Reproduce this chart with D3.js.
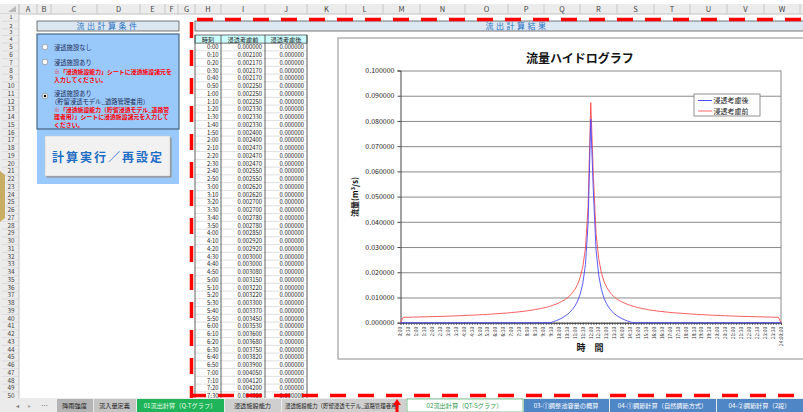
<!DOCTYPE html>
<html>
<head>
<meta charset="utf-8">
<script src="https://cdn.jsdelivr.net/npm/d3@7"></script>
<style>
body { margin: 0; background: #fff; }
svg { display: block; }
text { font-family: "Noto Sans CJK JP", "Noto Sans", sans-serif; }
</style>
</head>
<body>
<script>
// categories: 10 minute steps, 0:00 .. 24:00
var times = [
  "0:00","0:10","0:20","0:30","0:40","0:50",
  "1:00","1:10","1:20","1:30","1:40","1:50",
  "2:00","2:10","2:20","2:30","2:40","2:50",
  "3:00","3:10","3:20","3:30","3:40","3:50",
  "4:00","4:10","4:20","4:30","4:40","4:50",
  "5:00","5:10","5:20","5:30","5:40","5:50",
  "6:00","6:10","6:20","6:30","6:40","6:50",
  "7:00","7:10","7:20","7:30","7:40","7:50",
  "8:00","8:10","8:20","8:30","8:40","8:50",
  "9:00","9:10","9:20","9:30","9:40","9:50",
  "10:00","10:10","10:20","10:30","10:40","10:50",
  "11:00","11:10","11:20","11:30","11:40","11:50",
  "12:00","12:10","12:20","12:30","12:40","12:50",
  "13:00","13:10","13:20","13:30","13:40","13:50",
  "14:00","14:10","14:20","14:30","14:40","14:50",
  "15:00","15:10","15:20","15:30","15:40","15:50",
  "16:00","16:10","16:20","16:30","16:40","16:50",
  "17:00","17:10","17:20","17:30","17:40","17:50",
  "18:00","18:10","18:20","18:30","18:40","18:50",
  "19:00","19:10","19:20","19:30","19:40","19:50",
  "20:00","20:10","20:20","20:30","20:40","20:50",
  "21:00","21:10","21:20","21:30","21:40","21:50",
  "22:00","22:10","22:20","22:30","22:40","22:50",
  "23:00","23:10","23:20","23:30","23:40","23:50",
  "24:00:00"
];

// 浸透考慮前 (m3/s)
var before = [
  0.000000,0.002100,0.002170,0.002170,0.002170,0.002250,
  0.002250,0.002250,0.002330,0.002330,0.002330,0.002400,
  0.002400,0.002470,0.002470,0.002470,0.002550,0.002550,
  0.002620,0.002620,0.002700,0.002700,0.002780,0.002780,
  0.002850,0.002920,0.002920,0.003000,0.003000,0.003080,
  0.003150,0.003220,0.003220,0.003300,0.003370,0.003450,
  0.003530,0.003600,0.003680,0.003750,0.003820,0.003900,
  0.004050,0.004120,0.004200,0.004350,0.004430,0.004580,
  0.004730,0.004880,0.005030,0.005250,0.005400,0.005630,
  0.005850,0.006080,0.006380,0.006680,0.007050,0.007430,
  0.007880,0.008400,0.009000,0.009750,0.010650,0.011780,
  0.013200,0.015150,0.017930,0.022200,0.029630,0.046130,
  0.087300,0.058000,0.035500,0.025500,0.019900,0.016400,
  0.014100,0.012400,0.011100,0.010100,0.009300,0.008650,
  0.008100,0.007650,0.007230,0.006880,0.006530,0.006230,
  0.005950,0.005700,0.005480,0.005330,0.005100,0.004950,
  0.004800,0.004650,0.004500,0.004430,0.004280,0.004200,
  0.004050,0.003980,0.003900,0.003820,0.003750,0.003680,
  0.003600,0.003530,0.003450,0.003370,0.003300,0.003220,
  0.003220,0.003150,0.003080,0.003000,0.003000,0.002920,
  0.002920,0.002850,0.002780,0.002780,0.002700,0.002700,
  0.002620,0.002620,0.002550,0.002550,0.002470,0.002470,
  0.002470,0.002400,0.002400,0.002330,0.002330,0.002330,
  0.002250,0.002250,0.002250,0.002170,0.002170,0.002170,
  0.000000
];

// 浸透考慮後 (m3/s)
var after = [
  0,0,0,0,0,0,
  0,0,0,0,0,0,
  0,0,0,0,0,0,
  0,0,0,0,0,0,
  0,0,0,0,0,0,
  0,0,0,0,0,0,
  0,0,0,0,0,0,
  0,0,0,0,0,0,
  0,0,0,0,0,0,
  0,0,0,0.000080,0.000450,0.000830,
  0.001280,0.001800,0.002400,0.003150,0.004050,0.005180,
  0.006600,0.008550,0.011330,0.015600,0.023030,0.039530,
  0.080700,0.051400,0.028900,0.018900,0.013300,0.009800,
  0.007500,0.005800,0.004500,0.003500,0.002700,0.002050,
  0.001500,0.001050,0.000630,0.000280,0,0,
  0,0,0,0,0,0,
  0,0,0,0,0,0,
  0,0,0,0,0,0,
  0,0,0,0,0,0,
  0,0,0,0,0,0,
  0,0,0,0,0,0,
  0,0,0,0,0,0,
  0,0,0,0,0,0,
  0,0,0,0,0,0,
  0
];

var yTicks = [0, 0.01, 0.02, 0.03, 0.04, 0.05, 0.06, 0.07, 0.08, 0.09, 0.1];
var seriesNames = ["浸透考慮後", "浸透考慮前"];
var tableHeads = ["時刻", "浸透考慮前", "浸透考慮後"];
var colNames = ["A","B","C","D","E","F","G","H","I","J","K","L","M","N","O","P","Q","R","S","T","U","V","W"];
var sheetTabs = ["降雨強度", "流入量定義", "01流出計算（Q-Tグラフ）", "浸透施設能力",
  "浸透施設能力（貯留浸透モデル_道路管理者用）", "02流出計算（QT-Sグラフ）",
  "03-①調整池容量の概算", "04-①調節計算（自然調節方式）", "04-②調節計算（2段）"];

//layout of the sheet
var numFont = "Liberation Sans, Arial, sans-serif";
var colEdges = [19,37,51,97,140,165,178,195,221,265,307,346,383,420,465,508,544,580,617,654,690,727,764,800];
var tabEdges = [56,93,136,224,281,406,523,609,716,803];
var tabFill = ["#b4b4b4","#c4c4c4","#1fb35a","#cfcfcf","#cfcfcf","#ffffff","#4f86c6","#4f86c6","#4f86c6"];
var tabInk = ["#222","#222","#e9ffe9","#222","#222","#2c9a4c","#fff","#fff","#fff"];

function rowCenter(r) {
    if (r === 1) return 17;
    if (r === 2) return 25.5;
    if (r === 3) return 32;
    if (r === 4) return 39;
    return 47 + (r - 5) * 7.75;
}

var svg = d3.select("body")
    .append("svg")
    .attr("width", 803)
    .attr("height", 412);

svg.append("rect").attr("width", 803).attr("height", 412).attr("fill", "#fff");

//Column header
svg.append("rect").attr("x", 0).attr("y", 4).attr("width", 803).attr("height", 10).attr("fill", "#ececec");
svg.append("line").attr("x1", 0).attr("x2", 803).attr("y1", 14).attr("y2", 14).attr("stroke", "#c4c4c4");
svg.selectAll(".colsep").data(colEdges).enter().append("line")
    .attr("x1", d => d).attr("x2", d => d).attr("y1", 4).attr("y2", 14)
    .attr("stroke", "#c8c8c8");
svg.selectAll(".colname").data(colNames).enter().append("text")
    .attr("x", (d, i) => (colEdges[i] + colEdges[i + 1]) / 2)
    .attr("y", 12)
    .attr("text-anchor", "middle")
    .attr("font-family", numFont)
    .attr("font-size", 7.5)
    .attr("fill", "#444")
    .text(d => d);
svg.append("path").attr("d", "M8,12 L16,12 L16,6 Z").attr("fill", "#b8b8b8");

//Row header
var rows = d3.range(1, 51);
svg.append("rect").attr("x", 0).attr("y", 14).attr("width", 19).attr("height", 384).attr("fill", "#ececec");
svg.append("line").attr("x1", 19).attr("x2", 19).attr("y1", 4).attr("y2", 398).attr("stroke", "#c4c4c4");
svg.selectAll(".rowsep").data(rows).enter().append("line")
    .attr("x1", 2).attr("x2", 19)
    .attr("y1", d => rowCenter(d) + (d < 5 ? (rowCenter(d + 1) - rowCenter(d)) / 2 : 3.9))
    .attr("y2", d => rowCenter(d) + (d < 5 ? (rowCenter(d + 1) - rowCenter(d)) / 2 : 3.9))
    .attr("stroke", "#d0d0d0").attr("stroke-width", 0.6);
svg.selectAll(".rownum").data(rows).enter().append("text")
    .attr("x", 11)
    .attr("y", d => rowCenter(d) + 2.3)
    .attr("text-anchor", "middle")
    .attr("font-family", numFont)
    .attr("font-size", d => d < 5 ? 5.4 : 6.4)
    .attr("fill", "#444")
    .text(d => d);
svg.append("path").attr("d", "M0,171 L5,175 L5,218 L0,222 Z").attr("fill", "#c9ad62");

//Left panel: conditions
svg.append("rect").attr("x", 37).attr("y", 21).attr("width", 142).attr("height", 10)
    .attr("fill", "#dce6f1").attr("stroke", "#555").attr("stroke-width", 0.8);
svg.append("text").attr("x", 108).attr("y", 29).attr("text-anchor", "middle")
    .attr("font-size", 8).attr("letter-spacing", 2.5).attr("fill", "#1f72c4")
    .text("流出計算条件");
svg.append("rect").attr("x", 37).attr("y", 34).attr("width", 142).attr("height", 150).attr("fill", "#99c9fb");
svg.append("rect").attr("x", 37).attr("y", 34).attr("width", 142).attr("height", 95)
    .attr("fill", "none").attr("stroke", "#3e5a78").attr("stroke-width", 1.1);

var radios = [47, 62, 96];
svg.selectAll(".radio").data(radios).enter().append("circle")
    .attr("cx", 45).attr("cy", d => d).attr("r", 2.8)
    .attr("fill", "#fff").attr("stroke", "#8a8a8a").attr("stroke-width", 0.7);
svg.append("circle").attr("cx", 45).attr("cy", 96).attr("r", 1.3).attr("fill", "#111");

var panelLines = [
    {t: "浸透施設なし", y: 49.5, red: false},
    {t: "浸透施設あり", y: 64.5, red: false},
    {t: "※「浸透施設能力」シートに浸透施設諸元を", y: 73.5, red: true},
    {t: "入力してください。", y: 81.5, red: true},
    {t: "浸透施設あり", y: 95.5, red: false},
    {t: "（貯留浸透モデル_道路管理者用）", y: 103.5, red: false},
    {t: "※「浸透施設能力（貯留浸透モデル_道路管", y: 111.5, red: true},
    {t: "理者用）」シートに浸透施設諸元を入力して", y: 119.2, red: true},
    {t: "ください。", y: 127.0, red: true}
];
svg.selectAll(".ptext").data(panelLines).enter().append("text")
    .attr("x", d => d.t.charAt(0) === "（" ? 51 : 54)
    .attr("y", d => d.y)
    .attr("font-size", d => d.red ? 5.9 : 6.3)
    .attr("font-weight", d => d.red ? "bold" : "normal")
    .attr("fill", d => d.red ? "#ff0000" : "#1e2d55")
    .text(d => d.t);

//button
svg.append("rect").attr("x", 46.5).attr("y", 137.5).attr("width", 125).attr("height", 40).attr("fill", "#8a8a8a");
svg.append("rect").attr("x", 45).attr("y", 136).attr("width", 125).attr("height", 40)
    .attr("fill", "#f1f1f1").attr("stroke", "#c8c8c8").attr("stroke-width", 0.6);
svg.append("text").attr("x", 108).attr("y", 161.5).attr("text-anchor", "middle")
    .attr("font-size", 12).attr("font-weight", "bold").attr("letter-spacing", 2)
    .attr("fill", "#1f6ec6").text("計算実行／再設定");

//Result header band
svg.append("rect").attr("x", 195).attr("y", 21).attr("width", 610).attr("height", 10)
    .attr("fill", "#dde7f2").attr("stroke", "#555").attr("stroke-width", 0.8);
svg.append("text").attr("x", 517).attr("y", 29).attr("text-anchor", "middle")
    .attr("font-size", 8).attr("letter-spacing", 2.5).attr("fill", "#1f72c4")
    .text("流出計算結果");

//Data table
var tableRows = d3.range(0, 46);
var tableG = svg.append("g");
tableG.append("rect").attr("x", 195).attr("y", 35).attr("width", 112).attr("height", 8.1)
    .attr("fill", "#ccffff").attr("stroke", "#333").attr("stroke-width", 0.7);
var tableCols = [195, 221, 265, 307];
tableG.selectAll(".thead").data(tableHeads).enter().append("text")
    .attr("x", (d, i) => (tableCols[i] + tableCols[i + 1]) / 2)
    .attr("y", 41.5)
    .attr("text-anchor", "middle")
    .attr("font-size", 6.2)
    .attr("fill", "#222")
    .text(d => d);
tableG.selectAll(".hline").data(tableRows).enter().append("line")
    .attr("x1", 195).attr("x2", 307)
    .attr("y1", d => 43.1 + 7.75 * (d + 1)).attr("y2", d => 43.1 + 7.75 * (d + 1))
    .attr("stroke", "#c9c9c9").attr("stroke-width", 0.6);
tableG.selectAll(".vline").data(tableCols).enter().append("line")
    .attr("x1", d => d).attr("x2", d => d).attr("y1", 35).attr("y2", 398)
    .attr("stroke", "#3a3a3a").attr("stroke-width", 0.8);
var cellCols = [
    {x: 218.5, f: d => times[d]},
    {x: 262, f: d => before[d].toFixed(6)},
    {x: 304, f: d => after[d].toFixed(6)}
];
cellCols.forEach(function(c) {
    tableG.selectAll(null).data(tableRows).enter().append("text")
        .attr("x", c.x).attr("y", d => 49.3 + 7.75 * d)
        .attr("text-anchor", "end")
        .attr("font-family", numFont)
        .attr("font-size", 5.9)
        .attr("fill", "#222")
        .text(c.f);
});

//Chart area
svg.append("rect").attr("x", 338).attr("y", 38).attr("width", 520).attr("height", 321)
    .attr("fill", "#fff").attr("stroke", "#8c8c8c").attr("stroke-width", 1);

var plot = {left: 400.5, right: 781, top: 70.5, bottom: 322.7};
var xScale = d3.scaleLinear().domain([0, times.length - 1]).range([plot.left, plot.right]);
var yScale = d3.scaleLinear().domain([0, 0.1]).range([plot.bottom, plot.top]);

svg.append("text").attr("x", 580).attr("y", 63).attr("text-anchor", "middle")
    .attr("font-size", 12).attr("font-weight", "bold").attr("fill", "#111")
    .text("流量ハイドログラフ");

//gridlines
svg.append("g")
    .attr("transform", `translate(${plot.left},0)`)
    .call(d3.axisLeft(yScale).tickValues(yTicks).tickSize(-(plot.right - plot.left)).tickFormat(""))
    .call(g => g.select(".domain").remove())
    .call(g => g.selectAll("line").attr("stroke", "#8a8a8a").attr("stroke-width", 1));
svg.append("line").attr("x1", plot.right).attr("x2", plot.right).attr("y1", plot.top).attr("y2", plot.bottom)
    .attr("stroke", "#8a8a8a");

//y axis
svg.append("g")
    .attr("transform", `translate(${plot.left},0)`)
    .call(d3.axisLeft(yScale).tickValues(yTicks).tickSize(3).tickPadding(3).tickFormat(d3.format(".6f")))
    .call(g => g.selectAll("text").attr("font-family", numFont).attr("font-size", 7).attr("fill", "#222"))
    .call(g => g.selectAll("line, path").attr("stroke", "#444"));

svg.append("text")
    .attr("transform", "translate(358,197) rotate(-90)")
    .attr("text-anchor", "middle")
    .attr("font-size", 8).attr("font-weight", "bold").attr("fill", "#111")
    .call(t => {
        t.append("tspan").text("流量(m");
        t.append("tspan").attr("font-size", 5.5).attr("dy", -3).text("3");
        t.append("tspan").attr("dy", 3).text("/s)");
    });

//x axis with a tick at every category
var xIdx = d3.range(0, times.length);
var labelIdx = xIdx.filter(i => i % 3 === 0);
svg.append("g")
    .attr("transform", `translate(0,${plot.bottom})`)
    .call(d3.axisBottom(xScale).tickValues(xIdx).tickSize(2).tickFormat(""))
    .call(g => g.selectAll("line, path").attr("stroke", "#444"));
svg.selectAll(".xlab").data(labelIdx).enter().append("text")
    .attr("transform", d => `translate(${xScale(d)},${plot.bottom + 4}) rotate(-90)`)
    .attr("dy", "0.35em")
    .attr("text-anchor", "end")
    .attr("font-family", numFont)
    .attr("font-size", 5)
    .attr("fill", "#333")
    .text(d => times[d]);
svg.append("text").attr("x", 590).attr("y", 351).attr("text-anchor", "middle")
    .attr("font-size", 9).attr("font-weight", "bold").attr("fill", "#111")
    .text("時　間");

//lines
var line = d3.line().x((d, i) => xScale(i)).y(d => yScale(d));
svg.append("path").datum(before).attr("d", line)
    .attr("fill", "none").attr("stroke", "#ff4a4a").attr("stroke-width", 0.9);
svg.append("path").datum(after).attr("d", line)
    .attr("fill", "none").attr("stroke", "#4848ff").attr("stroke-width", 0.9);

//legend
var legend = svg.append("g").attr("transform", "translate(694,94)");
legend.append("rect").attr("width", 66).attr("height", 22)
    .attr("fill", "#fff").attr("stroke", "#777").attr("stroke-width", 0.8);
var legendColors = ["#4848ff", "#ff6a6a"];
seriesNames.forEach(function(name, i) {
    legend.append("line").attr("x1", 4).attr("x2", 18).attr("y1", 6.5 + i * 10.5).attr("y2", 6.5 + i * 10.5)
        .attr("stroke", legendColors[i]).attr("stroke-width", 1);
    legend.append("text").attr("x", 19.5).attr("y", 9 + i * 10.5)
        .attr("font-size", 7).attr("fill", "#222").text(name);
});

//print area border (red dashes)
var dash = "16,12";
svg.append("line").attr("x1", 197).attr("x2", 803).attr("y1", 19.5).attr("y2", 19.5)
    .attr("stroke", "#ff0000").attr("stroke-width", 3.5).attr("stroke-dasharray", dash);
svg.append("line").attr("x1", 191.5).attr("x2", 191.5).attr("y1", 22).attr("y2", 398)
    .attr("stroke", "#ff0000").attr("stroke-width", 3.5).attr("stroke-dasharray", dash);
svg.append("line").attr("x1", 190).attr("x2", 803).attr("y1", 395.5).attr("y2", 395.5)
    .attr("stroke", "#ff0000").attr("stroke-width", 3.5).attr("stroke-dasharray", dash);

//sheet tabs
svg.append("rect").attr("x", 0).attr("y", 398).attr("width", 803).attr("height", 14).attr("fill", "#ebebeb");
svg.append("text").attr("x", 16).attr("y", 408).attr("font-size", 6).attr("fill", "#777").text("◂");
svg.append("text").attr("x", 28).attr("y", 408).attr("font-size", 6).attr("fill", "#aaa").text("▸");
svg.append("text").attr("x", 41).attr("y", 408).attr("font-size", 7).attr("fill", "#555").text("…");
svg.selectAll(".tab").data(sheetTabs).enter().append("rect")
    .attr("x", (d, i) => tabEdges[i] + 1).attr("y", 399)
    .attr("width", (d, i) => tabEdges[i + 1] - tabEdges[i] - 1).attr("height", 13)
    .attr("fill", (d, i) => tabFill[i])
    .attr("stroke", (d, i) => i === 5 ? "#2c9a4c" : "none").attr("stroke-width", 0.6);
svg.selectAll(".tabtext").data(sheetTabs).enter().append("text")
    .attr("x", (d, i) => (tabEdges[i] + tabEdges[i + 1]) / 2)
    .attr("y", 408.3)
    .attr("text-anchor", "middle")
    .attr("font-size", 6.2)
    .attr("fill", (d, i) => tabInk[i])
    .text(d => d)
    .each(function(d, i) {
        var room = tabEdges[i + 1] - tabEdges[i] - 8;
        if (this.getComputedTextLength() > room) {
            d3.select(this).attr("textLength", room).attr("lengthAdjust", "spacingAndGlyphs");
        }
    });
svg.append("path").attr("d", "M397,399 L401,405 L398.5,405 L398.5,412 L395.5,412 L395.5,405 L393,405 Z")
    .attr("fill", "#ff0000");
</script>
</body>
</html>
